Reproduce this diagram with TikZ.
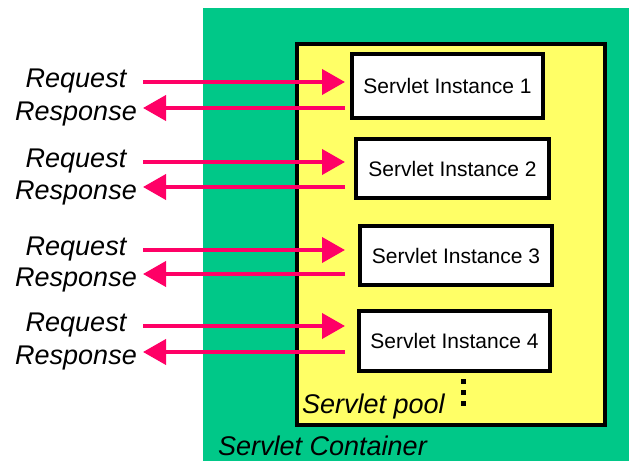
\documentclass[tikz,border=0pt]{standalone}
\usepackage{fontspec}
\setmainfont{Liberation Sans}
\usetikzlibrary{arrows.meta}
\definecolor{containergreen}{RGB}{0,200,136}
\definecolor{poolyellow}{RGB}{255,255,102}
\definecolor{msgpink}{RGB}{255,0,102}
\tikzset{
  lbl/.style={font=\fontsize{27}{30}\selectfont\itshape, inner sep=0pt, anchor=base},
  inst/.style={draw=black, line width=4pt, fill=white, inner sep=0pt,
    font=\fontsize{21}{24}\selectfont},
  msg/.style={draw=msgpink, line width=4pt,
    -{Triangle[length=23pt,width=25pt]}},
  dot/.style={fill=black, minimum size=5pt, inner sep=0pt}
}
\begin{document}
\begin{tikzpicture}[x=1pt,y=-1pt]
\useasboundingbox (0,0) rectangle (629,461);
% container and pool
\fill[containergreen] (203,8) rectangle (629,461);
\draw[line width=4pt, fill=poolyellow] (297,44) rectangle (605,425);
% servlet instances
\node[inst, minimum width=191pt, minimum height=64pt] (b1) at (447.5,86) {Servlet Instance 1};
\node[inst, minimum width=193pt, minimum height=59pt] (b2) at (452.5,168.5) {Servlet Instance 2};
\node[inst, minimum width=192pt, minimum height=59pt] (b3) at (456,255.5) {Servlet Instance 3};
\node[inst, minimum width=191pt, minimum height=60pt] (b4) at (454.5,341) {Servlet Instance 4};
% request / response labels and their arrows
\foreach \i/\qy/\ry in {1/82/108, 2/162/187, 3/250/274, 4/326/352}{
  \node[lbl] (q\i) at (76,\qy+5) {Request};
  \node[lbl] (r\i) at (76,\ry+12) {Response};
  \coordinate (qs\i) at (143,\qy);
  \coordinate (qe\i) at (345,\qy);
  \coordinate (rs\i) at (345,\ry);
  \coordinate (re\i) at (143,\ry);
  \draw[msg] (qs\i) -- (qe\i);
  \draw[msg] (rs\i) -- (re\i);
}
% continuation dots
\node[dot] (d1) at (463,381) {};
\node[dot] (d2) at (463,392) {};
\node[dot] (d3) at (463,403) {};
% captions
\node[lbl, anchor=base west] (pool) at (302,413) {Servlet pool};
\node[lbl, anchor=base west] (cont) at (218,455) {Servlet Container};
\end{tikzpicture}
\end{document}
